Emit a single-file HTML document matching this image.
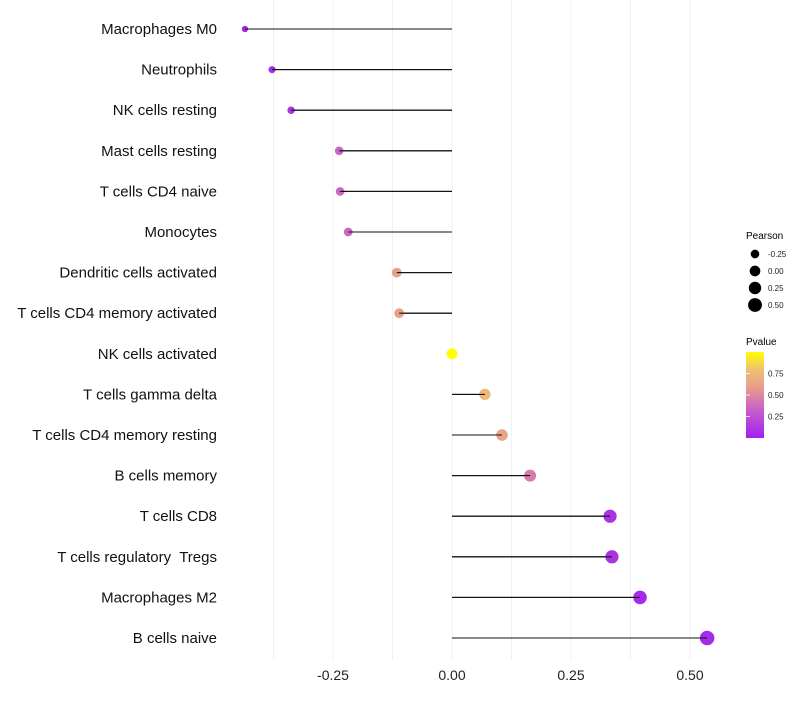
<!DOCTYPE html>
<html><head><meta charset="utf-8"><style>
body{margin:0;background:#fff;}
svg text{font-family:"Liberation Sans",Arial,sans-serif;}
</style></head><body>
<svg id="chart" width="800" height="700" xmlns="http://www.w3.org/2000/svg">
<defs>
<linearGradient id="pgrad" x1="0" y1="1" x2="0" y2="0">
<stop offset="0" stop-color="#A020F0"/><stop offset="0.33" stop-color="#C860C8"/><stop offset="0.6" stop-color="#E8A088"/><stop offset="0.8" stop-color="#F0C070"/><stop offset="1" stop-color="#FFFF00"/>
</linearGradient>
</defs>
<g id="grid"></g><g id="marks"></g><g id="labels"></g>
<g id="legend">
<text x="746" y="239" font-size="10">Pearson</text>
<text x="746" y="345" font-size="10">Pvalue</text>
<rect x="746" y="352" width="18" height="86" fill="url(#pgrad)"/>
</g>
</svg>
<script>
const categories=["Macrophages M0","Neutrophils","NK cells resting","Mast cells resting","T cells CD4 naive","Monocytes","Dendritic cells activated","T cells CD4 memory activated","NK cells activated","T cells gamma delta","T cells CD4 memory resting","B cells memory","T cells CD8","T cells regulatory  Tregs","Macrophages M2","B cells naive"];
const pearson=[-0.435,-0.378,-0.338,-0.237,-0.235,-0.218,-0.116,-0.111,0.0,0.069,0.105,0.164,0.332,0.336,0.395,0.536];
const pvalues=[0.02,0.05,0.1,0.35,0.35,0.37,0.6,0.6,1.0,0.75,0.62,0.45,0.1,0.1,0.05,0.05];
const xTicks=[-0.25,0,0.25,0.5];
const xTickLabels=["-0.25","0.00","0.25","0.50"];
const sizeLegend=[-0.25,0,0.25,0.5];
const sizeLegendLabels=["-0.25","0.00","0.25","0.50"];
const colorTicks=[0.25,0.5,0.75];
const colorTickLabels=["0.25","0.50","0.75"];

const NS="http://www.w3.org/2000/svg";
const X=v=>452+v*476;
const Y=i=>29+i*40.6;
const R=v=>Math.sqrt(Math.max(3,29+44*v));
const stops=[[0,[160,32,240]],[0.33,[200,96,200]],[0.6,[232,160,136]],[0.8,[240,192,112]],[1,[255,255,0]]];
function col(p){for(let i=1;i<stops.length;i++){if(p<=stops[i][0]){const a=stops[i-1],b=stops[i],t=(p-a[0])/(b[0]-a[0]);return "rgb("+a[1].map((c,k)=>Math.round(c+(b[1][k]-c)*t)).join(",")+")";}}return "rgb(255,255,0)";}
function mk(tag,attrs,parent){const e=document.createElementNS(NS,tag);for(const k in attrs)e.setAttribute(k,attrs[k]);parent.appendChild(e);return e;}
const grid=document.getElementById('grid'),marks=document.getElementById('marks'),labels=document.getElementById('labels'),legend=document.getElementById('legend');
for(let v=-0.5;v<=0.6;v+=0.125){const x=X(v);if(x<230||x>760)continue;
const g=mk('line',{x1:x,x2:x,y1:0,y2:660,stroke:'#f0f0f0','stroke-width':1},grid);

}
xTicks.forEach((v,i)=>{const t=mk('text',{x:X(v),y:680,'font-size':14,'text-anchor':'middle',fill:'#222'},labels);t.textContent=xTickLabels[i];

});
categories.forEach((c,i)=>{const y=Y(i);
const t=mk('text',{x:217,y:y+5,'font-size':15,'text-anchor':'end',fill:'#111','xml:space':'preserve'},labels);t.style.whiteSpace='pre';t.textContent=c;


const l=mk('line',{x1:X(0),x2:X(pearson[i]),y1:y,y2:y,stroke:'#111','stroke-width':1.1},marks);


const d=mk('circle',{cx:X(pearson[i]),cy:y,r:R(pearson[i]),fill:col(pvalues[i])},marks);


const s=mk('line',{x1:X(0),x2:X(pearson[i]),y1:y,y2:y,stroke:'#111','stroke-width':1.1},marks);

});
sizeLegend.forEach((v,i)=>{const y=254+i*17;
const c=mk('circle',{cx:755,cy:y,r:R(v)*0.9+0.5,fill:'#000'},legend);


const t=mk('text',{x:768,y:y+3,'font-size':8,fill:'#222'},legend);t.textContent=sizeLegendLabels[i];

});
colorTicks.forEach((p,i)=>{const y=438-p*86;
const k=mk('line',{x1:746,x2:750,y1:y,y2:y,stroke:'#fff','stroke-width':0.8},legend);


const t=mk('text',{x:768,y:y+3,'font-size':8,fill:'#222'},legend);t.textContent=colorTickLabels[i];

});
</script>
</body></html>
